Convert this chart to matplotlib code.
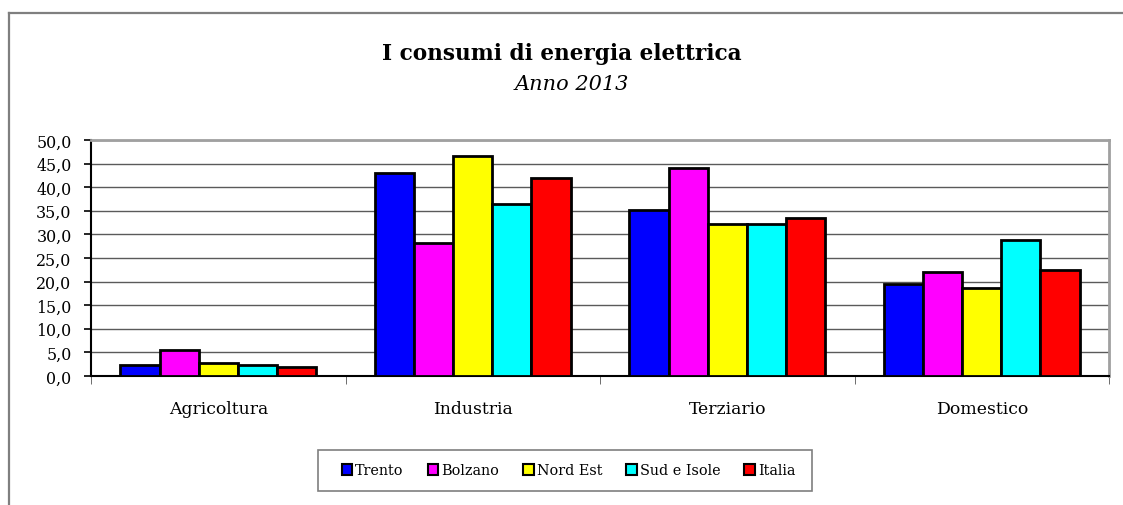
import matplotlib
matplotlib.use("Agg")
import matplotlib.pyplot as plt
import numpy as np
from matplotlib.lines import Line2D
from matplotlib.patches import Rectangle
from matplotlib.ticker import FuncFormatter

categories = ["Agricoltura", "Industria", "Terziario", "Domestico"]
series_names = ["Trento", "Bolzano", "Nord Est", "Sud e Isole", "Italia"]
trento = [2.3, 43.1, 35.2, 19.4]
bolzano = [5.6, 28.1, 44.0, 22.1]
nord_est = [2.7, 46.6, 32.1, 18.6]
sud_isole = [2.3, 36.5, 32.3, 28.8]
italia = [2.0, 41.9, 33.5, 22.5]
colors = ["#0000FF", "#FF00FF", "#FFFF00", "#00FFFF", "#FF0000"]

plt.rcParams["font.family"] = ["DejaVu Serif"]

W, H = 1123, 506
fig = plt.figure(figsize=(W / 100, H / 100), dpi=100)
fig.patch.set_facecolor("white")

# outer frame (top and left only visible)
fig.add_artist(Line2D([9 / W, 1.0], [1 - 14 / H, 1 - 14 / H], transform=fig.transFigure,
                      color="#7f7f7f", lw=1.6))
fig.add_artist(Line2D([9 / W, 9 / W], [0, 1 - 14 / H], transform=fig.transFigure,
                      color="#7f7f7f", lw=1.6))

ax_l, ax_r, ax_t, ax_b = 91, 1109, 141, 377
ax = fig.add_axes([ax_l / W, 1 - ax_b / H, (ax_r - ax_l) / W, (ax_b - ax_t) / H])

data = [trento, bolzano, nord_est, sud_isole, italia]
n = len(series_names)
bw = 1.0 / (n + 1.5)
x = np.arange(len(categories))
for i, (vals, c, name) in enumerate(zip(data, colors, series_names)):
    ax.bar(x + (i - (n - 1) / 2) * bw, vals, width=bw, color=c, edgecolor="black",
           linewidth=2, label=name, zorder=3)

ax.set_xlim(-0.5, len(categories) - 0.5)
ax.set_ylim(0, 50)
ax.set_yticks(np.arange(0, 50.1, 5))
ax.yaxis.set_major_formatter(FuncFormatter(lambda v, p: f"{v:.1f}".replace(".", ",")))
ax.grid(axis="y", color="#5a5a5a", lw=1.0, zorder=0)
ax.set_axisbelow(True)

ax.set_xticks(x)
ax.set_xticklabels(categories, fontsize=12.4)
ax.tick_params(axis="x", length=0, pad=17)
ax.set_xticks(np.arange(-0.5, len(categories), 1), minor=True)
ax.tick_params(axis="x", which="minor", length=6, direction="out", color="#555555")
ax.tick_params(axis="y", length=5, direction="out", labelsize=11.4, pad=9, width=1.2)

for s in ["left", "bottom"]:
    ax.spines[s].set_color("black")
    ax.spines[s].set_linewidth(1.5)
for s in ["top", "right"]:
    ax.spines[s].set_color("#a0a0a0")
    ax.spines[s].set_linewidth(2)

fig.text(562 / W, 1 - 54 / H, "I consumi di energia elettrica", ha="center", va="center",
         fontsize=15.6, fontweight="bold")
fig.text(572 / W, 1 - 85 / H, "Anno 2013", ha="center", va="center",
         fontsize=15, style="italic")

# legend frame drawn separately
fig.add_artist(Rectangle((318 / W, 1 - 492 / H), (812 - 318) / W, (492 - 451) / H,
                         transform=fig.transFigure, fill=False, edgecolor="#7f7f7f", lw=1.2))
leg = fig.legend(loc="center", bbox_to_anchor=(568.5 / W, 1 - 471.5 / H), ncol=5,
                 fontsize=10.4, frameon=False,
                 handlelength=0.75, handleheight=0.75, handletextpad=0.2,
                 columnspacing=1.65, borderpad=0.0, borderaxespad=0)
for h in leg.legend_handles:
    h.set_linewidth(1.5)

fig.savefig("out.png", dpi=100, facecolor="white")
